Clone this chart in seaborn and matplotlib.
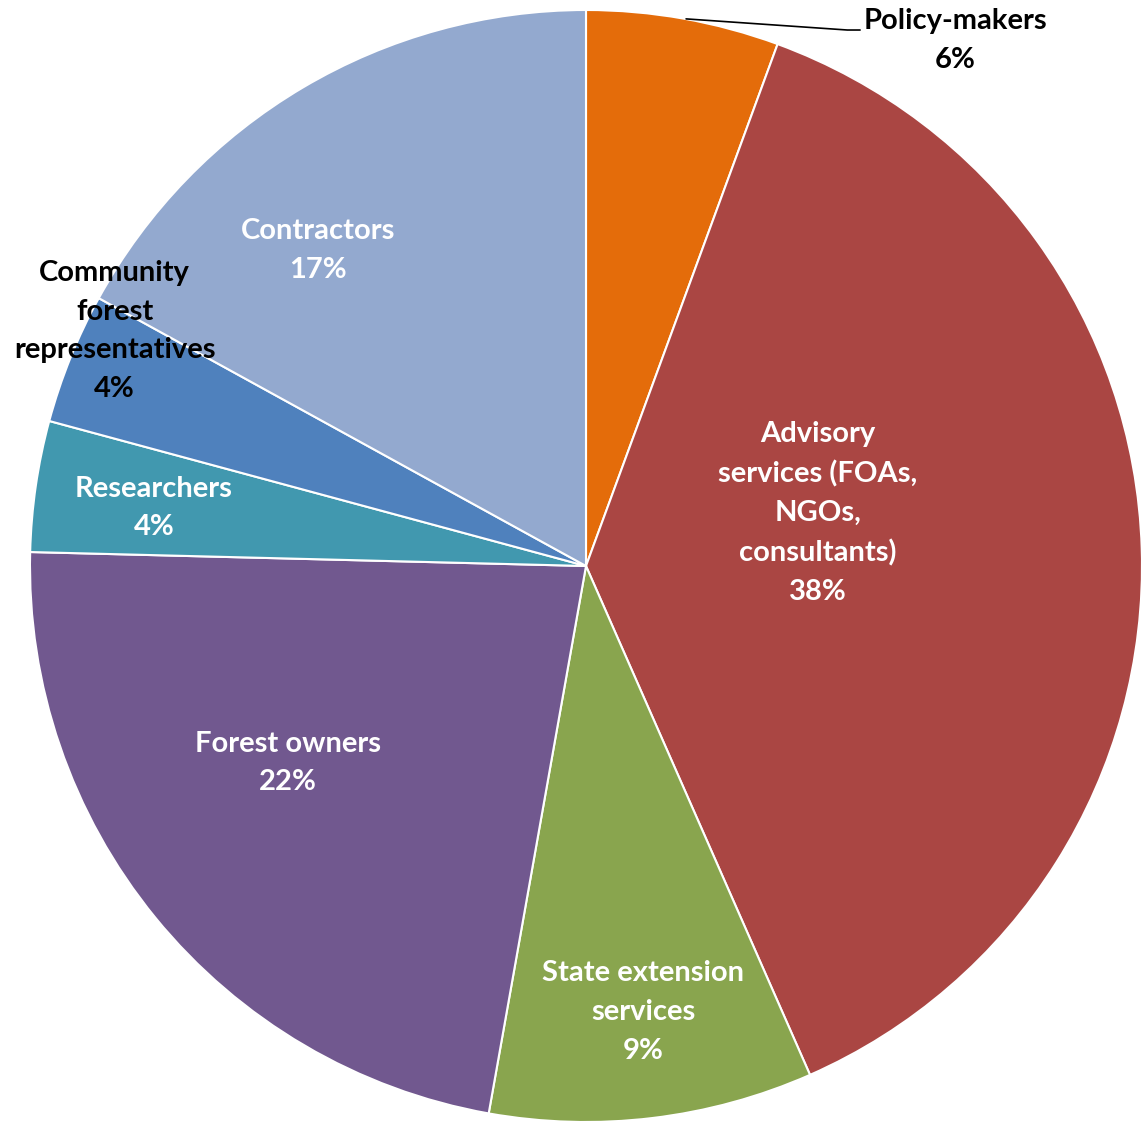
import matplotlib
matplotlib.use("Agg")
import matplotlib.pyplot as plt
import seaborn as sns

labels = ["Policy-makers", "Advisory\nservices (FOAs,\nNGOs,\nconsultants)", "State extension\nservices",
          "Forest owners", "Researchers", "Community\nforest\nrepresentatives", "Contractors"]
values = [5.6, 37.8, 9.4, 22.6, 3.8, 3.8, 17.0]
pct_text = ["6%", "38%", "9%", "22%", "4%", "4%", "17%"]
colors = ["#E46C0A", "#AA4643", "#89A54E", "#71588F", "#4198AF", "#4F81BD", "#93A9CF"]

# label centres in data coords (pie radius 1) and text colours
label_pos = [(0.664, 0.945), (0.417, 0.095), (0.103, -0.802), (-0.536, -0.354),
             (-0.777, 0.104), (-0.848, 0.423), (-0.482, 0.567)]
label_col = ["black", "white", "white", "white", "white", "black", "white"]

sns.set_theme(style="white")
plt.rcParams["font.family"] = ["Lato", "DejaVu Sans"]

fig = plt.figure(figsize=(11.43, 11.26), dpi=100)
ax = fig.add_axes([0, 0, 1, 1])
ax.pie(values, colors=colors, startangle=90, counterclock=False, radius=1.0,
       wedgeprops=dict(edgecolor="white", linewidth=1.5))

for lab, pct, (x, y), c in zip(labels, pct_text, label_pos, label_col):
    ax.text(x, y, lab + "\n" + pct, ha="center", va="center", color=c,
            fontsize=21, fontweight="bold", linespacing=1.6)

# leader line for the small top slice
ax.plot([0.180, 0.470, 0.493], [0.984, 0.964, 0.964], color="black", lw=1.2)

# centre (586,566) px, radius 556 px
ax.set_xlim(-586 / 556, (1143 - 586) / 556)
ax.set_ylim(-(1126 - 566) / 556, 566 / 556)
ax.set_aspect("equal")
ax.axis("off")
fig.savefig("out.png", dpi=100, facecolor="white")
plt.close(fig)
